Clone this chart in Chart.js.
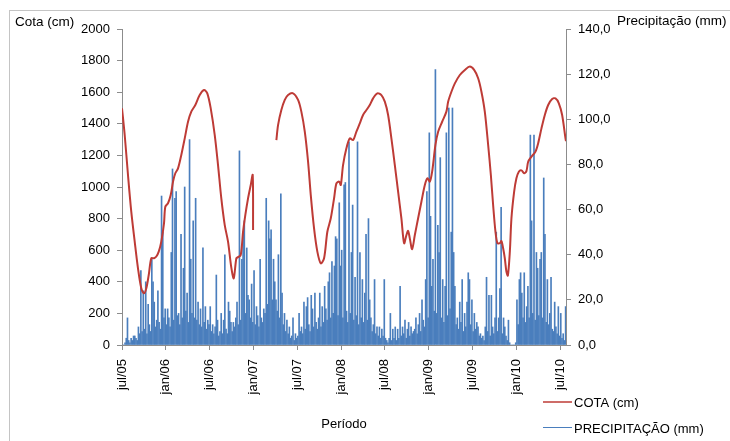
<!DOCTYPE html>
<html>
<head>
<meta charset="utf-8">
<script src="https://cdn.jsdelivr.net/npm/chart.js@4.4.0/dist/chart.umd.min.js"></script>
<style>
  html, body { margin: 0; padding: 0; background: #ffffff; }
  #wrap { width: 730px; height: 441px; position: relative; }
</style>
</head>
<body>
<div id="wrap"><canvas id="c" width="730" height="441"></canvas></div>
<script>
// ---------- DATA ----------
// x axis: months since jul/05
const tickMonths = [0, 6, 12, 18, 24, 30, 36, 42, 48, 54, 60];
const tickLabels = ["jul/05","jan/06","jul/06","jan/07","jul/07","jan/08","jul/08","jan/09","jul/09","jan/10","jul/10"];
const xMax = 60.8;

// COTA (cm): month position and value; null = gap in the record
const cotaMonth = [
  0.00,0.37,0.82,1.27,1.74,2.19,2.64,3.01,3.33,3.66,4.01,4.38,4.70,5.03,5.38,5.75,5.93,6.30,6.67,6.99,
  7.30,7.67,8.12,8.59,9.04,9.49,10.04,10.64,11.23,11.68,12.15,12.70,13.15,13.60,14.07,14.52,14.97,15.30,
  15.66,15.89,16.26,16.58,16.89,17.26,17.63,17.90,17.95,
  19.50,
  21.14,21.37,21.82,22.29,22.74,23.42,24.11,24.56,25.03,25.48,25.85,26.30,26.75,27.22,27.67,28.12,28.59,
  29.04,29.36,29.73,29.96,30.27,30.73,31.19,31.64,32.10,32.56,33.01,33.47,33.93,34.38,34.97,35.52,35.99,
  36.44,36.89,37.36,37.81,38.26,38.63,38.95,39.18,39.41,39.73,40.10,40.55,41.00,41.47,41.82,42.15,42.47,
  42.92,43.29,43.84,44.42,44.66,45.11,45.58,46.26,46.95,47.63,48.22,48.77,49.22,49.68,50.14,50.51,50.82,
  51.14,51.41,51.74,51.96,52.19,52.42,52.64,52.84,53.11,53.33,53.70,54.01,54.34,54.70,55.07,55.38,55.62,
  56.07,56.62,56.99,57.44,57.90,58.36,58.90,59.36,59.82,60.27,60.73,60.80
];
const cotaCm = [
  1498,1329,1076,844,654,485,359,327,359,443,549,549,560,591,654,770,875,897,949,1034,
  1087,1118,1203,1308,1413,1477,1519,1582,1614,1593,1498,1329,1139,928,759,654,490,422,
  549,556,570,717,823,928,1013,1076,728,
  null,
  1297,1392,1487,1551,1582,1593,1551,1477,1350,1160,949,738,591,517,549,717,802,
  928,1023,1034,1013,1139,1245,1308,1297,1350,1403,1456,1487,1519,1561,1593,1582,1540,
  1456,1308,1139,970,802,644,696,722,675,607,696,802,907,1013,1055,1034,1097,
  1266,1350,1413,1477,1540,1603,1656,1709,1741,1762,1741,1688,1603,1477,1266,1076,886,
  717,644,644,658,612,549,464,439,591,802,970,1055,1097,1105,1087,1100,1160,
  1192,1224,1277,1371,1456,1519,1557,1561,1530,1456,1308,1290
];

// PRECIPITAÇÃO (mm): highest value in each ~5-day slot (6 slots per month), from jul/05
const slotsPerMonth = 6;
const precipMm = [
  // 2005 jul-dec
  0,0,1,3,12,2,
  1,3,2,4,4,3,
  2,8,5,33,6,24,
  7,28,5,18,9,6,
  38,28,19,8,11,24,
  10,7,66,50,12,16,
  // 2006 jan-jun
  9,16,12,8,41,78,
  11,65,68,13,14,9,
  49,12,34,70,15,23,
  10,91,38,14,55,12,
  65,11,19,9,16,8,
  43,10,17,7,11,9,
  // 2006 jul-dec
  17,6,9,5,8,31,
  11,4,6,14,5,11,
  40,7,5,19,15,10,
  6,10,8,12,19,9,
  86,11,38,50,55,14,
  43,22,20,12,27,10,
  // 2007 jan-jun
  33,9,17,13,8,38,
  12,10,16,14,65,18,
  55,47,51,20,38,28,
  20,15,40,12,67,23,
  9,14,6,11,5,8,
  3,4,12,2,5,3,
  // 2007 jul-dec
  4,14,6,8,5,19,
  7,17,21,9,6,22,
  16,8,23,10,7,12,
  23,8,17,10,26,16,
  11,28,32,12,37,14,
  35,48,47,13,63,35,
  // 2008 jan-jun
  42,12,71,72,15,10,
  90,14,41,62,11,30,
  13,90,9,41,12,29,
  10,23,49,11,56,20,
  12,6,9,29,5,8,
  4,8,3,7,4,29,
  // 2008 jul-dec
  3,2,1,3,14,2,
  7,3,8,2,7,3,
  26,4,8,5,11,3,
  7,10,4,8,5,6,
  7,12,5,9,14,6,
  20,11,8,29,68,12,
  // 2009 jan-jun
  94,57,26,38,15,122,
  14,53,41,83,12,29,
  10,26,94,13,105,16,
  50,105,41,26,9,12,
  7,19,10,29,6,14,
  8,19,32,29,9,20,
  // 2009 jul-dec
  6,14,7,10,8,4,
  5,3,4,2,8,30,
  6,22,4,22,8,5,
  12,50,6,12,25,61,
  5,12,8,4,2,11,
  1,0,0,0,0,1,
  // 2010 jan-jul
  20,9,29,32,23,12,
  32,10,17,26,12,93,
  55,14,93,11,41,34,
  13,38,41,12,74,49,
  10,29,9,14,30,7,
  6,19,8,5,17,4,
  14,3,5,2,17
];

const leftTitle = "Cota (cm)";
const rightTitle = "Precipitação (mm)";
const xTitle = "Período";
const cotaLabel = "COTA (cm)";
const precipLabel = "PRECIPITAÇÃO (mm)";

// ---------- STYLE ----------
const RED = "#be3b36";
const BLUE = "#4a7ebd";
const AXIS = "#8c8c8c";
const FONT = "'Liberation Sans', Arial, sans-serif";
Chart.defaults.font.family = FONT;
Chart.defaults.font.size = 13;
Chart.defaults.color = "#000";

const cotaData = cotaMonth.map((m, i) => ({ x: m, y: cotaCm[i] }));
const precipData = precipMm.map((v, i) => ({ x: (i + 0.5) / slotsPerMonth, y: v }));

const decor = {
  id: 'decor',
  beforeDraw(chart) {
    const c = chart.ctx;
    c.save();
    c.fillStyle = '#fff';
    c.fillRect(0, 0, chart.width, chart.height);
    c.strokeStyle = '#c4c4c4';
    c.lineWidth = 1;
    c.strokeRect(9.5, 10.5, 800, 500);
    c.restore();
  },
  afterDraw(chart) {
    const c = chart.ctx;
    const a = chart.chartArea;
    c.save();
    c.fillStyle = '#000';
    c.font = "13.5px " + FONT;
    c.textBaseline = 'middle';
    c.textAlign = 'left';
    c.fillText(leftTitle, 15, 22);
    c.fillText(rightTitle, 617, 21);
    c.font = "13px " + FONT;
    c.textAlign = 'center';
    c.fillText(xTitle, (a.left + a.right) / 2, 424);
    // legend
    c.textAlign = 'left';
    c.strokeStyle = RED; c.lineWidth = 1.5;
    c.beginPath(); c.moveTo(543, 402); c.lineTo(572, 402); c.stroke();
    c.fillText(cotaLabel, 574, 403);
    c.strokeStyle = BLUE; c.lineWidth = 1;
    c.beginPath(); c.moveTo(543, 427.5); c.lineTo(572, 427.5); c.stroke();
    c.fillText(precipLabel, 574, 429);
    c.restore();
  }
};

new Chart(document.getElementById('c'), {
  type: 'line',
  data: {
    datasets: [
      {
        type: 'line',
        label: cotaLabel,
        data: cotaData,
        yAxisID: 'y',
        borderColor: RED,
        borderWidth: 2,
        pointRadius: 0,
        tension: 0.3,
        spanGaps: false,
        order: 0
      },
      {
        type: 'bar',
        label: precipLabel,
        data: precipData,
        yAxisID: 'y1',
        backgroundColor: BLUE,
        borderWidth: 0,
        barThickness: 1.0,
        order: 1
      }
    ]
  },
  options: {
    responsive: false,
    animation: false,
    devicePixelRatio: 1,
    layout: { padding: { left: 0, right: 0, top: 29, bottom: 0 } },
    plugins: { legend: { display: false }, tooltip: { enabled: false } },
    scales: {
      x: {
        type: 'linear',
        min: 0,
        max: xMax,
        offset: false,
        afterBuildTicks(s) { s.ticks = tickMonths.map(v => ({ value: v })); },
        afterFit(s) { s.height = 96; },
        ticks: {
          minRotation: 90, maxRotation: 90, padding: 9, autoSkip: false,
          color: '#000', font: { size: 13 },
          callback: (v, i) => tickLabels[i]
        },
        grid: { display: true, drawOnChartArea: false, drawTicks: true, tickLength: 5, color: AXIS, offset: false },
        border: { display: true, color: AXIS }
      },
      y: {
        position: 'left',
        min: 0, max: 2000,
        afterFit(s) { s.width = 122; },
        ticks: { stepSize: 200, padding: 7, color: '#000', font: { size: 13 },
          callback: v => String(v) },
        grid: { display: true, drawOnChartArea: false, drawTicks: true, tickLength: 5, color: AXIS },
        border: { display: true, color: AXIS }
      },
      y1: {
        position: 'right',
        min: 0, max: 140,
        afterFit(s) { s.width = 164; },
        ticks: { stepSize: 20, padding: 7, color: '#000', font: { size: 13 },
          callback: v => v.toFixed(1).replace('.', ',') },
        grid: { display: true, drawOnChartArea: false, drawTicks: true, tickLength: 5, color: AXIS },
        border: { display: true, color: AXIS }
      }
    }
  },
  plugins: [decor]
});
</script>
</body>
</html>
